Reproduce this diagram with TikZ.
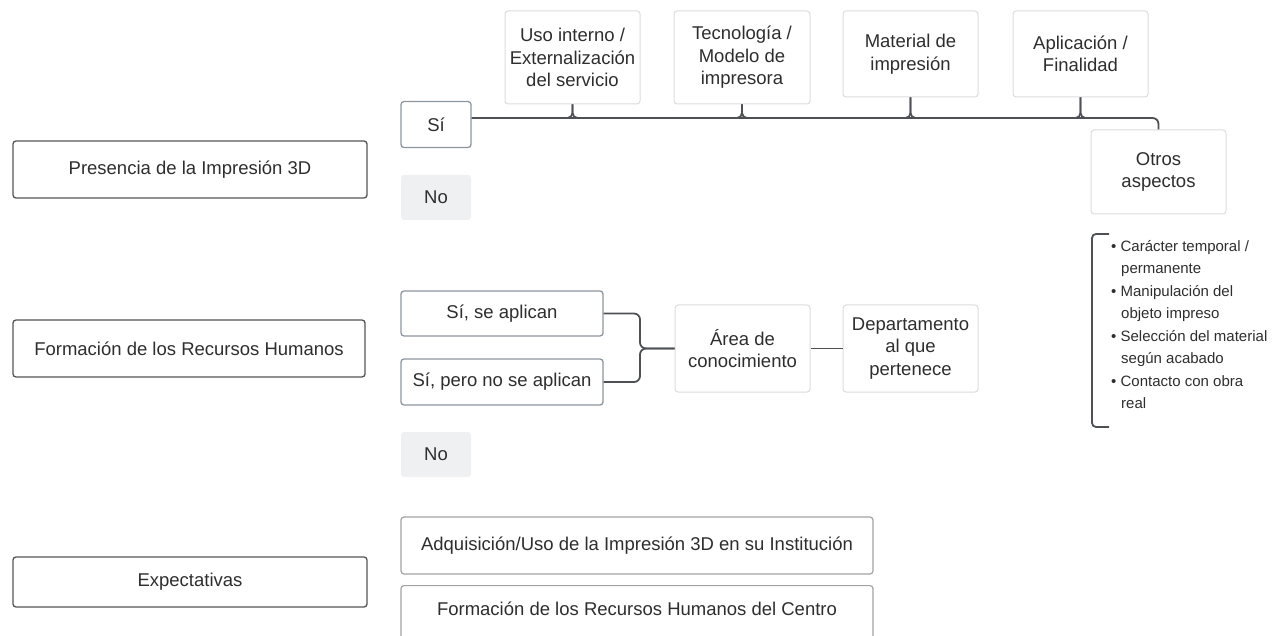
\documentclass[tikz,border=0pt]{standalone}
\usepackage{fontspec}
\setmainfont{Liberation Sans}
\usetikzlibrary{calc}
\definecolor{txt}{HTML}{2E2E2E}
\definecolor{darkb}{HTML}{555555}
\definecolor{slate}{HTML}{8D969E}
\definecolor{lightb}{HTML}{DCDCDC}
\definecolor{midb}{HTML}{A3A3A3}
\definecolor{nofill}{HTML}{EEF0F2}
\definecolor{conncol}{HTML}{4D5156}
\tikzset{
  base/.style={rectangle, rounded corners=3pt, inner sep=0pt, align=center, text=txt,
    font=\fontsize{18.5}{22.5}\selectfont},
  leftbox/.style={base, draw=darkb, line width=1.3pt, fill=white},
  sibox/.style={base, draw=slate, line width=1.3pt, fill=white},
  catbox/.style={base, draw=lightb, line width=1pt, fill=white},
  nobox/.style={base, fill=nofill, draw=none},
  expbox/.style={base, draw=midb, line width=1.2pt, fill=white},
  conn/.style={draw=conncol, line width=1.8pt},
}
\begin{document}
\begin{tikzpicture}[x=1pt,y=-1pt]
\useasboundingbox (0,0) rectangle (1277,636);
% row 1
\node[leftbox, minimum width=354, minimum height=57] (pres) at (190,169.5) {Presencia de la Impresión 3D};
\node[sibox, minimum width=70, minimum height=46] (si1) at (436,124.5) {Sí};
\node[nobox, minimum width=70, minimum height=45] (no1) at (436,197.5) {No};
\node[catbox, minimum width=135, minimum height=93] (uso) at (572.5,57.5) {Uso interno /\\Externalización\\del servicio};
\node[catbox, minimum width=136, minimum height=93] (tec) at (742,57.5) {Tecnología /\\Modelo de\\impresora};
\node[catbox, minimum width=135, minimum height=86] (mat) at (910.5,54) {Material de\\impresión};
\node[catbox, minimum width=135, minimum height=86] (apl) at (1080.5,54) {Aplicación /\\Finalidad};
\node[catbox, minimum width=135, minimum height=84] (otros) at (1158.5,172) {Otros\\aspectos};
\coordinate (ln) at (0,118);
\draw[conn, rounded corners=6] ($(si1.east)+(0,-6.5)$) -| (otros.north);
\foreach \b in {uso,tec,mat,apl}{
  \draw[conn, rounded corners=5] (\b.south) -- (\b.south |- ln) -- ++(-15,0);
  \draw[conn, rounded corners=5] (\b.south) -- (\b.south |- ln) -- ++(15,0);
}
% list with bracket
\node[anchor=north west, inner sep=0pt, align=left, text=txt, font=\fontsize{15}{22.5}\selectfont] (list) at (1111,240)
{\textbullet\ Carácter temporal /\\\hspace*{10pt}permanente\\\textbullet\ Manipulación del\\\hspace*{10pt}objeto impreso\\\textbullet\ Selección del material\\\hspace*{10pt}según acabado\\\textbullet\ Contacto con obra\\\hspace*{10pt}real};
\draw[conn, rounded corners=4] (1109,234) -- (1092,234) -- (1092,427) -- (1109,427);
% row 2
\node[leftbox, minimum width=352, minimum height=57] (form) at (189,348.5) {Formación de los Recursos Humanos};
\node[sibox, minimum width=202, minimum height=45] (sise) at (502,313.5) {Sí, se aplican};
\node[sibox, minimum width=202, minimum height=46] (sipero) at (502,382) {Sí, pero no se aplican};
\node[catbox, minimum width=135, minimum height=87] (area) at (742.5,348.5) {Área de\\conocimiento};
\node[catbox, minimum width=135, minimum height=87] (dep) at (910.5,348.5) {Departamento\\al que\\pertenece};
\node[nobox, minimum width=70, minimum height=45] (no2) at (436,454.5) {No};
\coordinate (j) at (640,348.5);
\draw[conn, rounded corners=6] (sise.east) -| (j) -- (area.west);
\draw[conn, rounded corners=6] (sipero.east) -| (j) -- (area.west);
\draw[conn] (area.east) -- (dep.west);
% row 3
\node[leftbox, minimum width=354, minimum height=50] (exp) at (190,582) {Expectativas};
\node[expbox, minimum width=472, minimum height=57] (adq) at (637,545.5) {Adquisición/Uso de la Impresión 3D en su Institución};
\node[expbox, minimum width=472, minimum height=57, anchor=north] (fcen) at (637,585) {};
\node[text=txt, font=\fontsize{18.5}{22.5}\selectfont] (fcentxt) at (637,609) {Formación de los Recursos Humanos del Centro};
\end{tikzpicture}
\end{document}
